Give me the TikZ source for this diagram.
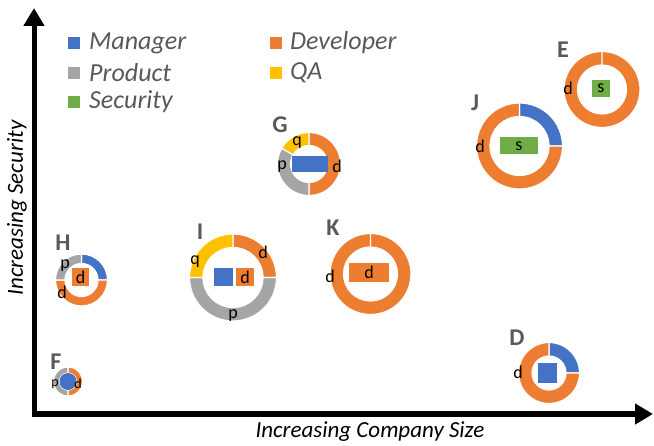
\documentclass[tikz,border=0pt]{standalone}
\usepackage{fontspec}
\setmainfont{Carlito}
\usepackage{tikz}
\usetikzlibrary{calc,arrows.meta}
\definecolor{mgrblue}{HTML}{4472C4}
\definecolor{devorange}{HTML}{ED7D31}
\definecolor{prodgray}{HTML}{A5A5A5}
\definecolor{qayellow}{HTML}{FFC000}
\definecolor{secgreen}{HTML}{70AD47}
\definecolor{labelgray}{HTML}{595959}
\tikzset{
    legendbox/.style={
        fill=#1,
        minimum size=12pt,
        inner sep=0pt
    },
    legendtext/.style={
        anchor=west,
        inner sep=0pt,
        text=labelgray,
        font=\fontsize{26}{26}\selectfont\itshape
    },
    teamname/.style={
        inner sep=0pt,
        text=labelgray,
        font=\fontsize{24}{24}\selectfont\bfseries
    },
    rolelabel/.style={
        inner sep=0pt,
        font=\fontsize{18}{18}\selectfont
    },
    rolebox/.style={
        fill=#1,
        inner sep=0pt
    },
    axislabel/.style={
        inner sep=0pt,
        font=\fontsize{23}{23}\selectfont\itshape
    }
}
% one coloured piece of a ring: centre, inner r, outer r, from, to, colour
\newcommand{\ringpart}[6]{%
    \filldraw[fill=#6,draw=white,line width=1.2pt]
        ($(#1)+(#4:#3)$) arc[start angle=#4,end angle=#5,radius=#3]
        -- ($(#1)+(#5:#2)$) arc[start angle=#5,end angle=#4,radius=#2] -- cycle;}

\begin{document}
\begin{tikzpicture}[x=1pt,y=1pt]
    \useasboundingbox (0,0) rectangle (654,445);

    %% axes
    \coordinate (origin) at (34,31);
    \coordinate (ytip) at (34,437);
    \coordinate (xtip) at (653,31);
    \draw[line width=5pt,line join=miter,
        {Triangle[width=20pt,length=18pt]}-{Triangle[width=20pt,length=18pt]}]
        (ytip) -- (origin) -- (xtip);
    \node (ylabel) [axislabel,rotate=90] at (17,237) {Increasing Security};
    \node (xlabel) [axislabel] at (370,13) {Increasing Company Size};

    %% legend
    \node (mgrkey) [legendbox=mgrblue] at (74,402) {};
    \node (mgrtext) [legendtext] at (89,402) {Manager};
    \node (prodkey) [legendbox=prodgray] at (74,372) {};
    \node (prodtext) [legendtext] at (89,372) {Product};
    \node (seckey) [legendbox=secgreen] at (74,343) {};
    \node (sectext) [legendtext] at (89,343) {Security};
    \node (devkey) [legendbox=devorange] at (276,402) {};
    \node (devtext) [legendtext] at (290,402) {Developer};
    \node (qakey) [legendbox=qayellow] at (276,372) {};
    \node (qatext) [legendtext] at (290,372) {QA};

    %% G
    \coordinate (G) at (309,281);
    \ringpart{G}{18.5}{31.5}{90}{-90}{devorange}
    \ringpart{G}{18.5}{31.5}{270}{150}{prodgray}
    \ringpart{G}{18.5}{31.5}{150}{90}{qayellow}
    \node (Gmgr) [rolebox=mgrblue,minimum width=36pt,minimum height=16pt] at (310,281) {};
    \node (Gname) [teamname] at (280,320) {G};
    \node (Gq) [rolelabel] at (297,302) {q};
    \node (Gp) [rolelabel] at (282,278) {p};
    \node (Gd) [rolelabel] at (337,279) {d};

    %% J
    \coordinate (J) at (519.5,299);
    \ringpart{J}{29.5}{43}{90}{0}{mgrblue}
    \ringpart{J}{29.5}{43}{0}{-270}{devorange}
    \node (Jsec) [rolebox=secgreen,minimum width=38pt,minimum height=17pt,rolelabel] at (519,299) {s};
    \node (Jname) [teamname] at (475,342) {J};
    \node (Jd) [rolelabel] at (480,299) {d};

    %% E
    \coordinate (E) at (602,355.5);
    \ringpart{E}{24.5}{38}{90}{-270}{devorange}
    \node (Esec) [rolebox=secgreen,minimum width=18pt,minimum height=17pt,rolelabel] at (601,356.5) {s};
    \node (Ename) [teamname] at (563,395) {E};
    \node (Ed) [rolelabel] at (568,357) {d};

    %% H
    \coordinate (H) at (81.5,165);
    \ringpart{H}{16.5}{26}{90}{0}{mgrblue}
    \ringpart{H}{16.5}{26}{0}{-180}{devorange}
    \ringpart{H}{16.5}{26}{180}{90}{prodgray}
    \node (Hdev) [rolebox=devorange,minimum width=17pt,minimum height=18pt,rolelabel] at (80.5,168) {d};
    \node (Hname) [teamname] at (63,202) {H};
    \node (Hp) [rolelabel] at (65,179) {p};
    \node (Hd) [rolelabel] at (62,153) {d};

    %% I
    \coordinate (I) at (233,167.5);
    \ringpart{I}{30}{43.5}{90}{0}{devorange}
    \ringpart{I}{30}{43.5}{0}{-180}{prodgray}
    \ringpart{I}{30}{43.5}{180}{90}{qayellow}
    \node (Imgr) [rolebox=mgrblue,minimum width=19pt,minimum height=18pt] at (223.5,168) {};
    \node (Idev) [rolebox=devorange,minimum width=18pt,minimum height=18pt,rolelabel] at (245,168) {d};
    \node (Iname) [teamname] at (200,213) {I};
    \node (Id) [rolelabel] at (263,193) {d};
    \node (Iq) [rolelabel] at (195,183) {q};
    \node (Ip) [rolelabel] at (233,129) {p};

    %% K
    \coordinate (K) at (370.5,171);
    \ringpart{K}{27}{40.5}{90}{-270}{devorange}
    \node (Kdev) [rolebox=devorange,minimum width=40pt,minimum height=19pt,rolelabel] at (369,172.5) {d};
    \node (Kname) [teamname] at (333,217) {K};
    \node (Kd) [rolelabel] at (330,169) {d};

    %% F
    \coordinate (F) at (68,63.5);
    \ringpart{F}{8.5}{14.5}{90}{-90}{devorange}
    \ringpart{F}{8.5}{14.5}{90}{270}{prodgray}
    \fill[mgrblue] (F) circle[radius=8.5];
    \node (Fname) [teamname] at (56,83) {F};
    \node (Fp) [rolelabel,font=\fontsize{14}{14}\selectfont] at (55,61) {p};
    \node (Fd) [rolelabel,font=\fontsize{14}{14}\selectfont] at (78,61) {d};

    %% D
    \coordinate (D) at (549,72);
    \ringpart{D}{17}{30.5}{90}{0}{mgrblue}
    \ringpart{D}{17}{30.5}{0}{-270}{devorange}
    \node (Dmgr) [rolebox=mgrblue,minimum width=19pt,minimum height=20pt] at (547.5,72) {};
    \node (Dname) [teamname] at (517,107) {D};
    \node (Dd) [rolelabel] at (518,73) {d};

\end{tikzpicture}
\end{document}
